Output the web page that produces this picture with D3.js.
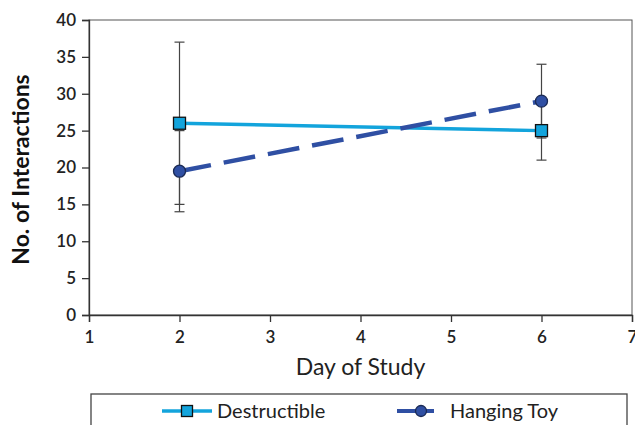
<!DOCTYPE html>
<html>
<head>
<meta charset="utf-8">
<script src="https://cdn.jsdelivr.net/npm/d3@7"></script>
<style>
  body { margin: 0; background: #fff; }
  svg { display: block; font-family: Lato, "Open Sans", sans-serif; }
</style>
</head>
<body>
<div id="chart"></div>
<script>
const days = [2, 6]
const destructible = [26, 25]
const destructibleErr = [11, 4]
const hangingToy = [19.5, 29]
const hangingToyErr = [5.5, 5]
const xTicks = [1, 2, 3, 4, 5, 6, 7]
const yTicks = [0, 5, 10, 15, 20, 25, 30, 35, 40]
const seriesNames = ["Destructible", "Hanging Toy"]

const width = 635, height = 425
const margin = {top: 20, right: 3, bottom: 110, left: 89}

const svg = d3.select("#chart").append("svg")
  .attr("width", width)
  .attr("height", height)

const x = d3.scaleLinear().domain([1, 7]).range([margin.left, width - margin.right])
const y = d3.scaleLinear().domain([0, 40]).range([height - margin.bottom, margin.top])

const colors = ["#13a4dc", "#2f4fa3"]

// plot border
svg.append("rect")
  .attr("x", x(1)).attr("y", y(40))
  .attr("width", x(7) - x(1)).attr("height", y(0) - y(40))
  .attr("fill", "none")
  .attr("stroke", "#555")
  .attr("stroke-width", 1)

const xAxis = svg.append("g")
  .attr("transform", `translate(0,${y(0)})`)
  .call(d3.axisBottom(x).tickValues(xTicks).tickFormat(d3.format("d")).tickSizeOuter(0).tickSize(7).tickPadding(9))
const yAxis = svg.append("g")
  .attr("transform", `translate(${x(1)},0)`)
  .call(d3.axisLeft(y).tickValues(yTicks).tickSizeOuter(0).tickSize(7).tickPadding(6))

;[xAxis, yAxis].forEach(a => {
  a.select(".domain").attr("stroke", "#333").attr("stroke-width", 1.3)
  a.selectAll(".tick line").attr("stroke", "#333").attr("stroke-width", 1.3)
  a.selectAll(".tick text")
    .attr("fill", "#222")
    .style("font-size", "17px")
    .style("font-weight", "600")
    .style("font-family", "Lato, 'Open Sans', sans-serif")
})

svg.append("text")
  .attr("x", (x(1) + x(7)) / 2)
  .attr("y", 375)
  .attr("text-anchor", "middle")
  .attr("fill", "#222")
  .style("font-size", "23px")
  .text("Day of Study")

svg.append("text")
  .attr("transform", `translate(29,${(y(0) + y(40)) / 2 + 2}) rotate(-90)`)
  .attr("text-anchor", "middle")
  .attr("fill", "#111")
  .style("font-size", "23px")
  .style("font-weight", "700")
  .text("No. of Interactions")

// error bars
const errGroup = svg.append("g").attr("stroke", "#444").attr("stroke-width", 1.2)
const errData = []
days.forEach((d, i) => {
  errData.push({day: d, v: destructible[i], e: destructibleErr[i]})
  errData.push({day: d, v: hangingToy[i], e: hangingToyErr[i]})
})
errData.forEach(d => {
  errGroup.append("line")
    .attr("x1", x(d.day)).attr("x2", x(d.day))
    .attr("y1", y(d.v - d.e)).attr("y2", y(d.v + d.e))
  ;[d.v - d.e, d.v + d.e].forEach(v => {
    errGroup.append("line")
      .attr("x1", x(d.day) - 5).attr("x2", x(d.day) + 5)
      .attr("y1", y(v)).attr("y2", y(v))
  })
})

const line = d3.line().x(d => x(d[0])).y(d => y(d[1]))

svg.append("path")
  .datum(days.map((d, i) => [d, destructible[i]]))
  .attr("d", line)
  .attr("fill", "none")
  .attr("stroke", colors[0])
  .attr("stroke-width", 3.5)

svg.append("path")
  .datum(days.map((d, i) => [d, hangingToy[i]]))
  .attr("d", line)
  .attr("fill", "none")
  .attr("stroke", colors[1])
  .attr("stroke-width", 4.5)
  .attr("stroke-dasharray", "32,13")

svg.selectAll(".sq")
  .data(days.map((d, i) => [d, destructible[i]]))
  .join("rect")
  .attr("x", d => x(d[0]) - 6).attr("y", d => y(d[1]) - 6)
  .attr("width", 12).attr("height", 12)
  .attr("fill", colors[0])
  .attr("stroke", "#111")
  .attr("stroke-width", 1.3)

svg.selectAll(".dot")
  .data(days.map((d, i) => [d, hangingToy[i]]))
  .join("circle")
  .attr("cx", d => x(d[0])).attr("cy", d => y(d[1]))
  .attr("r", 6)
  .attr("fill", colors[1])
  .attr("stroke", "#1a2a55")
  .attr("stroke-width", 1.3)

// legend
const lg = svg.append("g")
lg.append("rect")
  .attr("x", 91).attr("y", 394)
  .attr("width", 536).attr("height", 40)
  .attr("fill", "#fff")
  .attr("stroke", "#444")
  .attr("stroke-width", 1.3)

const legendItems = [
  {name: seriesNames[0], x1: 162, x2: 212, tx: 217, shape: "square"},
  {name: seriesNames[1], x1: 397, x2: 434, tx: 450, shape: "circle"}
]
const ly = 411
legendItems.forEach((it, i) => {
  lg.append("line")
    .attr("x1", it.x1).attr("x2", it.x2)
    .attr("y1", ly).attr("y2", ly)
    .attr("stroke", colors[i])
    .attr("stroke-width", i === 0 ? 3.5 : 4)
  const cx = i === 0 ? 187 : 421
  if (it.shape === "square") {
    lg.append("rect")
      .attr("x", cx - 5.5).attr("y", ly - 5.5)
      .attr("width", 11).attr("height", 11)
      .attr("fill", colors[0]).attr("stroke", "#111").attr("stroke-width", 1.3)
  } else {
    lg.append("circle")
      .attr("cx", cx).attr("cy", ly).attr("r", 5.5)
      .attr("fill", colors[1]).attr("stroke", "#1a2a55").attr("stroke-width", 1.3)
  }
  lg.append("text")
    .attr("x", it.tx).attr("y", ly + 7)
    .attr("fill", "#222")
    .style("font-size", "20px")
    .text(it.name)
})
</script>
</body>
</html>
